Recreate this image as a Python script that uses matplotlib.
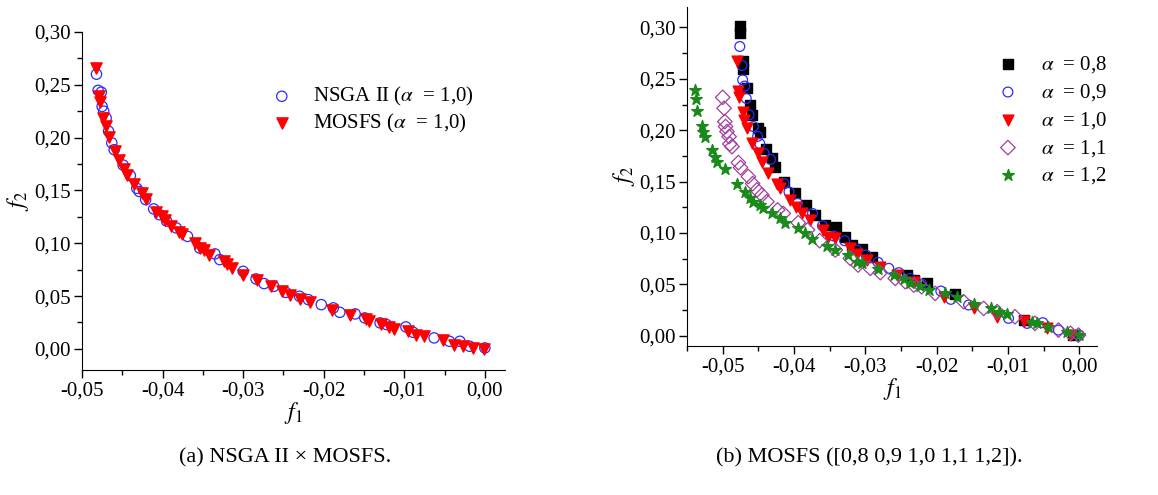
import matplotlib
matplotlib.use("Agg")
import matplotlib.pyplot as plt
from matplotlib.ticker import MultipleLocator, FuncFormatter

plt.rcParams['font.family'] = ['Liberation Serif', 'DejaVu Serif']
plt.rcParams['mathtext.fontset'] = 'stix'

# ---- Panel (a) data ----
nsga_x = [-0.0482, -0.0480, -0.0476, -0.0475, -0.0473, -0.0470, -0.0467, -0.0463, -0.0460, -0.0449,
          -0.0440, -0.0432, -0.0429, -0.0421, -0.0411, -0.0404, -0.0395, -0.0383, -0.0369, -0.0354,
          -0.0335, -0.0329, -0.0300, -0.0284, -0.0274, -0.0262, -0.0247, -0.0230, -0.0219, -0.0203,
          -0.0188, -0.0180, -0.0161, -0.0149, -0.0130, -0.0122, -0.0098, -0.0089, -0.0063, -0.0044,
          -0.0031, -0.0019, 0.0000]
nsga_y = [0.260, 0.2447, 0.243, 0.2295, 0.225, 0.2185, 0.206, 0.195, 0.1885, 0.174,
          0.164, 0.152, 0.149, 0.1413, 0.1325, 0.127, 0.121, 0.1145, 0.1065, 0.0955,
          0.0899, 0.0845, 0.0734, 0.0662, 0.0618, 0.0592, 0.0535, 0.0498, 0.0466, 0.0419,
          0.0388, 0.0346, 0.0331, 0.0293, 0.0246, 0.0230, 0.0208, 0.0157, 0.0104, 0.0072,
          0.0072, 0.0025, 0.0009]
mosfs_x = [-0.0482, -0.0479, -0.0478, -0.0474, -0.0470, -0.0467, -0.0459, -0.0454, -0.0448, -0.0444,
           -0.0435, -0.0426, -0.0421, -0.0408, -0.0401, -0.0397, -0.0389, -0.0380, -0.0376, -0.0360,
           -0.0354, -0.0349, -0.0342, -0.0324, -0.0320, -0.0314, -0.0300, -0.0283, -0.0265, -0.0252,
           -0.0242, -0.0230, -0.0217, -0.0190, -0.0167, -0.0148, -0.0144, -0.0129, -0.0119, -0.0113,
           -0.0096, -0.0086, -0.0075, -0.0052, -0.0038, -0.0027, -0.0015, -0.0001]
mosfs_y = [0.266, 0.239, 0.234, 0.2186, 0.2106, 0.201, 0.187, 0.179, 0.170, 0.165,
           0.156, 0.148, 0.142, 0.130, 0.1255, 0.122, 0.1166, 0.111, 0.109, 0.100,
           0.0955, 0.0933, 0.089, 0.083, 0.080, 0.0766, 0.0703, 0.0656, 0.0592, 0.0545,
           0.0514, 0.0473, 0.0441, 0.0372, 0.0325, 0.0284, 0.0261, 0.0239, 0.0208, 0.0192,
           0.0167, 0.0135, 0.0119, 0.0088, 0.0041, 0.0025, 0.0009, 0.0000]

# ---- Panel (b) data ----
a08_x = [-0.0476, -0.0476, -0.0472, -0.0471, -0.0466, -0.0462, -0.0459, -0.0450, -0.0448, -0.0439,
         -0.0431, -0.0427, -0.0414, -0.0398, -0.0383, -0.0370, -0.0356, -0.0341, -0.0328, -0.0318,
         -0.0304, -0.0290, -0.0242, -0.0232, -0.0214, -0.0174, -0.0078, -0.0008]
a08_y = [0.301, 0.295, 0.267, 0.260, 0.241, 0.2247, 0.215, 0.202, 0.1987, 0.182,
         0.1727, 0.1646, 0.150, 0.1386, 0.1273, 0.1175, 0.1078, 0.1055, 0.0964, 0.0883,
         0.0841, 0.0763, 0.0591, 0.0542, 0.0510, 0.0406, 0.0153, 0.0006]
a09_x = [-0.0476, -0.0473, -0.0472, -0.0469, -0.0467, -0.0463, -0.0457, -0.0451, -0.0448, -0.0442,
         -0.0433, -0.0414, -0.0407, -0.0395, -0.0374, -0.0360, -0.0344, -0.0329, -0.0312, -0.0299,
         -0.0282, -0.0267, -0.0253, -0.0237, -0.0221, -0.0194, -0.0180, -0.0155, -0.0099, -0.0073,
         -0.0051, -0.0029, 0.0000]
a09_y = [0.2815, 0.263, 0.249, 0.243, 0.231, 0.215, 0.2036, 0.194, 0.187, 0.1776,
         0.1717, 0.148, 0.140, 0.129, 0.119, 0.107, 0.097, 0.0925, 0.0834, 0.0786,
         0.0714, 0.0656, 0.0614, 0.0558, 0.0503, 0.0435, 0.0354, 0.0299, 0.0169, 0.0120,
         0.0127, 0.0055, 0.0006]
a10_x = [-0.0480, -0.0478, -0.0477, -0.0472, -0.0470, -0.0466, -0.0459, -0.0450, -0.0445, -0.0436,
         -0.0424, -0.0420, -0.0406, -0.0397, -0.0389, -0.0377, -0.0359, -0.0352, -0.0342, -0.0321,
         -0.0312, -0.0298, -0.0279, -0.0256, -0.0232, -0.0190, -0.0148, -0.0115, -0.0078, -0.0045,
         -0.0012]
a10_y = [0.267, 0.2386, 0.2328, 0.218, 0.210, 0.202, 0.1873, 0.1776, 0.1695, 0.158,
         0.148, 0.1435, 0.132, 0.1257, 0.119, 0.1127, 0.103, 0.0964, 0.0948, 0.085,
         0.080, 0.0737, 0.0672, 0.059, 0.0526, 0.038, 0.0266, 0.0185, 0.0146, 0.0071,
         0.0006]
a11_x = [-0.0500, -0.0498, -0.0497, -0.0496, -0.0494, -0.0491, -0.0490, -0.0487, -0.0478, -0.0475,
         -0.0464, -0.0458, -0.0452, -0.0445, -0.0438, -0.0423, -0.0415, -0.0394, -0.0381, -0.0364,
         -0.0342, -0.0321, -0.0310, -0.0293, -0.0279, -0.0258, -0.0244, -0.0232, -0.0221, -0.0202,
         -0.0162, -0.0134, -0.0115, -0.0090, -0.0062, -0.0029, -0.0012, -0.0001]
a11_y = [0.232, 0.2214, 0.2084, 0.2036, 0.1987, 0.1938, 0.1867, 0.184, 0.1685, 0.1636,
         0.1549, 0.148, 0.1419, 0.137, 0.1305, 0.1224, 0.119, 0.110, 0.103, 0.0925,
         0.0834, 0.0753, 0.0688, 0.0656, 0.0614, 0.0558, 0.0526, 0.0493, 0.0477, 0.0412,
         0.0331, 0.0266, 0.0234, 0.0185, 0.0120, 0.0055, 0.0023, 0.0006]
a12_x = [-0.0539, -0.0538, -0.0536, -0.0529, -0.0527, -0.0525, -0.0515, -0.0511, -0.0508, -0.0497,
         -0.0480, -0.0469, -0.0461, -0.0457, -0.0448, -0.0443, -0.0431, -0.0420, -0.0412, -0.0394,
         -0.0384, -0.0375, -0.0354, -0.0342, -0.0324, -0.0312, -0.0305, -0.0282, -0.0260, -0.0246,
         -0.0237, -0.0223, -0.0211, -0.0188, -0.0172, -0.0148, -0.0123, -0.0113, -0.0101, -0.0066,
         -0.0059, -0.0043, -0.0017, 0.0000]
a12_y = [0.2393, 0.2302, 0.2192, 0.2042, 0.1987, 0.1938, 0.1808, 0.1743, 0.1695, 0.162,
         0.148, 0.140, 0.1338, 0.1305, 0.127, 0.124, 0.119, 0.1143, 0.1094, 0.1045,
         0.0997, 0.0938, 0.0873, 0.0834, 0.0786, 0.0721, 0.0705, 0.0646, 0.0591, 0.0549,
         0.051, 0.0484, 0.0445, 0.0412, 0.038, 0.0308, 0.0266, 0.0234, 0.0211, 0.0136,
         0.0127, 0.0088, 0.0039, 0.0006]

labels_a = ['NSGA II ($\\alpha$  = 1,0)', 'MOSFS ($\\alpha$  = 1,0)']
labels_b = ['$\\alpha$  = 0,8', '$\\alpha$  = 0,9', '$\\alpha$  = 1,0', '$\\alpha$  = 1,1', '$\\alpha$  = 1,2']
caption_a = '(a) NSGA II × MOSFS.'
caption_b = '(b) MOSFS ([0,8 0,9 1,0 1,1 1,2]).'

fig = plt.figure(figsize=(11.58, 4.95), dpi=100)
axA = fig.add_axes([0.0708, 0.2525, 0.3653, 0.683])
axB = fig.add_axes([0.5933, 0.301, 0.354, 0.685])

comma = FuncFormatter(lambda v, p: ('%.2f' % v).replace('.', ',').replace('-0,00', '0,00'))

def style(ax, xlim, ylim):
    ax.set_xlim(*xlim)
    ax.set_ylim(*ylim)
    for s in ['top', 'right']:
        ax.spines[s].set_visible(False)
    ax.xaxis.set_major_locator(MultipleLocator(0.01))
    ax.xaxis.set_minor_locator(MultipleLocator(0.005))
    ax.yaxis.set_major_locator(MultipleLocator(0.05))
    ax.yaxis.set_minor_locator(MultipleLocator(0.025))
    ax.xaxis.set_major_formatter(comma)
    ax.yaxis.set_major_formatter(comma)
    ax.tick_params(which='major', direction='out', length=6, width=1, labelsize=15, pad=2)
    ax.tick_params(which='minor', direction='out', length=3.5, width=1)
    ax.set_xlabel('$f_1$', fontsize=17, labelpad=0)
    ax.set_ylabel('$f_2$', fontsize=17, labelpad=2)

style(axA, (-0.05, 0.0025), (-0.02, 0.30))
axA.scatter(nsga_x, nsga_y, s=55, marker='o', facecolors='none', edgecolors='#2b2bff', linewidths=0.9,
            label=labels_a[0], zorder=2)
axA.scatter(mosfs_x, mosfs_y, s=65, marker='v', color='#ff0000', label=labels_a[1], zorder=3)
axA.legend(loc='upper left', bbox_to_anchor=(0.428, 0.867), frameon=False, fontsize=15,
           handlelength=1.0, handletextpad=1.0, labelspacing=0.2, borderaxespad=0)

style(axB, (-0.055, 0.0025), (-0.01, 0.32))
axB.scatter(a08_x, a08_y, s=55, marker='s', color='black', label=labels_b[0], zorder=2)
axB.scatter(a09_x, a09_y, s=50, marker='o', facecolors='none', edgecolors='#2b2bff', linewidths=0.9,
            label=labels_b[1], zorder=3)
axB.scatter(a10_x, a10_y, s=60, marker='v', color='#ff0000', label=labels_b[2], zorder=4)
axB.scatter(a11_x, a11_y, s=55, marker='D', facecolors='none', edgecolors='#a040a0', linewidths=0.9,
            label=labels_b[3], zorder=5)
axB.scatter(a12_x, a12_y, s=75, marker='*', color='#1a8a1a', label=labels_b[4], zorder=6)
axB.legend(loc='upper left', bbox_to_anchor=(0.737, 0.885), frameon=False, fontsize=15,
           handlelength=1.0, handletextpad=1.1, labelspacing=0.33, borderaxespad=0)

fig.text(0.246, 0.0747, caption_a, ha='center', va='center', fontsize=16)
fig.text(0.751, 0.0747, caption_b, ha='center', va='center', fontsize=16)

fig.savefig('out.png', dpi=100)
